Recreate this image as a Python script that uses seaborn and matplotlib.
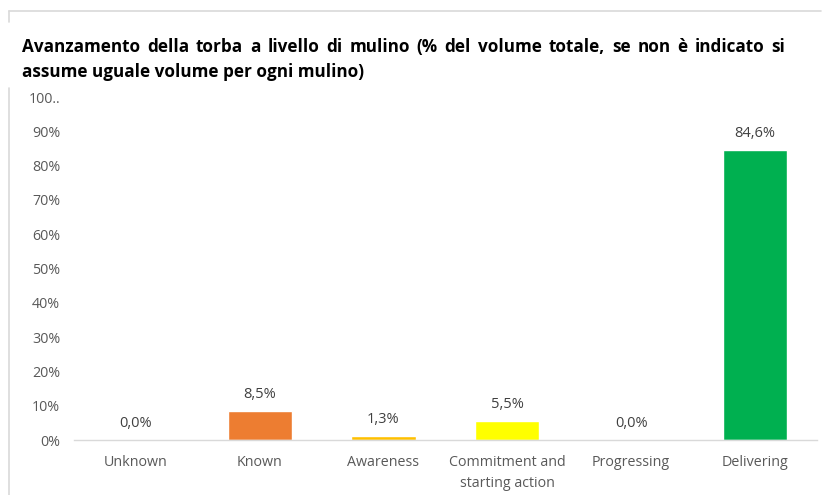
import matplotlib
matplotlib.use('Agg')
import matplotlib.pyplot as plt
import seaborn as sns
import pandas as pd
from matplotlib.lines import Line2D
from matplotlib.ticker import FixedLocator

# data
categories = ['Unknown', 'Known', 'Awareness', 'Commitment and\nstarting action',
              'Progressing', 'Delivering']
values = [0.0, 8.5, 1.3, 5.5, 0.0, 84.6]
bar_colors = ['#A5A5A5', '#ED7D31', '#FFC000', '#FFFF00', '#5B9BD5', '#00B050']
y_ticks = [0, 10, 20, 30, 40, 50, 60, 70, 80, 90, 100]
y_tick_labels = ['0%', '10%', '20%', '30%', '40%', '50%', '60%', '70%', '80%', '90%', '100..']
title_line1 = "Avanzamento della torba a livello di mulino (% del volume totale, se non è indicato si"
title_line2 = "assume uguale volume per ogni mulino)"

sns.set_style("white")
plt.rcParams['font.family'] = ['Open Sans', 'DejaVu Sans']

df = pd.DataFrame({'category': categories, 'value': values})

W, H = 825, 495
fig = plt.figure(figsize=(W / 100, H / 100), dpi=100)
ax = fig.add_axes([0.0897, 0.111, 0.9003, 0.693])

sns.barplot(data=df, x='category', y='value', hue='category',
            palette=dict(zip(categories, bar_colors)), width=0.52,
            legend=False, ax=ax, saturation=1)

ax.set_ylim(0, 100)
ax.set_xlim(-0.5, len(categories) - 0.5)
ax.yaxis.set_major_locator(FixedLocator(y_ticks))
ax.set_yticklabels(y_tick_labels)
ax.set_xlabel('')
ax.set_ylabel('')
ax.tick_params(axis='both', length=0, labelsize=10.3, labelcolor='#595959')
ax.tick_params(axis='y', pad=10)
ax.tick_params(axis='x', pad=11)
for lbl in ax.get_xticklabels():
    lbl.set_linespacing(1.5)

for s in ['top', 'right', 'left']:
    ax.spines[s].set_visible(False)
ax.spines['bottom'].set_color('#D9D9D9')
ax.spines['bottom'].set_linewidth(1)

for i, v in enumerate(values):
    ax.annotate(f"{v:.1f}%".replace('.', ','), (i, v), xytext=(0, 6.5),
                textcoords='offset points', ha='center', va='bottom',
                fontsize=10.5, color='#404040')

# title: first line justified between x=22 and x=785 px, like the reference
title_kw = dict(fontsize=12.3, fontweight='bold', color='black', va='center')
renderer = fig.canvas.get_renderer()
words = title_line1.split(' ')
left_px, right_px = 22, 785
widths = []
for w in words:
    t = fig.text(0, 0, w, **title_kw)
    widths.append(t.get_window_extent(renderer).width)
    t.remove()
gap = (right_px - left_px - sum(widths)) / (len(words) - 1)
x = left_px
for w, wd in zip(words, widths):
    fig.text(x / W, 1 - 47 / H, w, ha='left', **title_kw)
    x += wd + gap
fig.text(left_px / W, 1 - 72 / H, title_line2, ha='left', **title_kw)

# light frame lines around the chart area
frame = '#D9D9D9'
fig.add_artist(Line2D([0.011, 0.995], [0.977, 0.977], color=frame, lw=1.2))
fig.add_artist(Line2D([0.011, 0.011], [0.977, 0.956], color=frame, lw=1.2))
fig.add_artist(Line2D([0.011, 0.011], [0.822, 0.0], color=frame, lw=1.2))

fig.savefig('out.png', dpi=100)
